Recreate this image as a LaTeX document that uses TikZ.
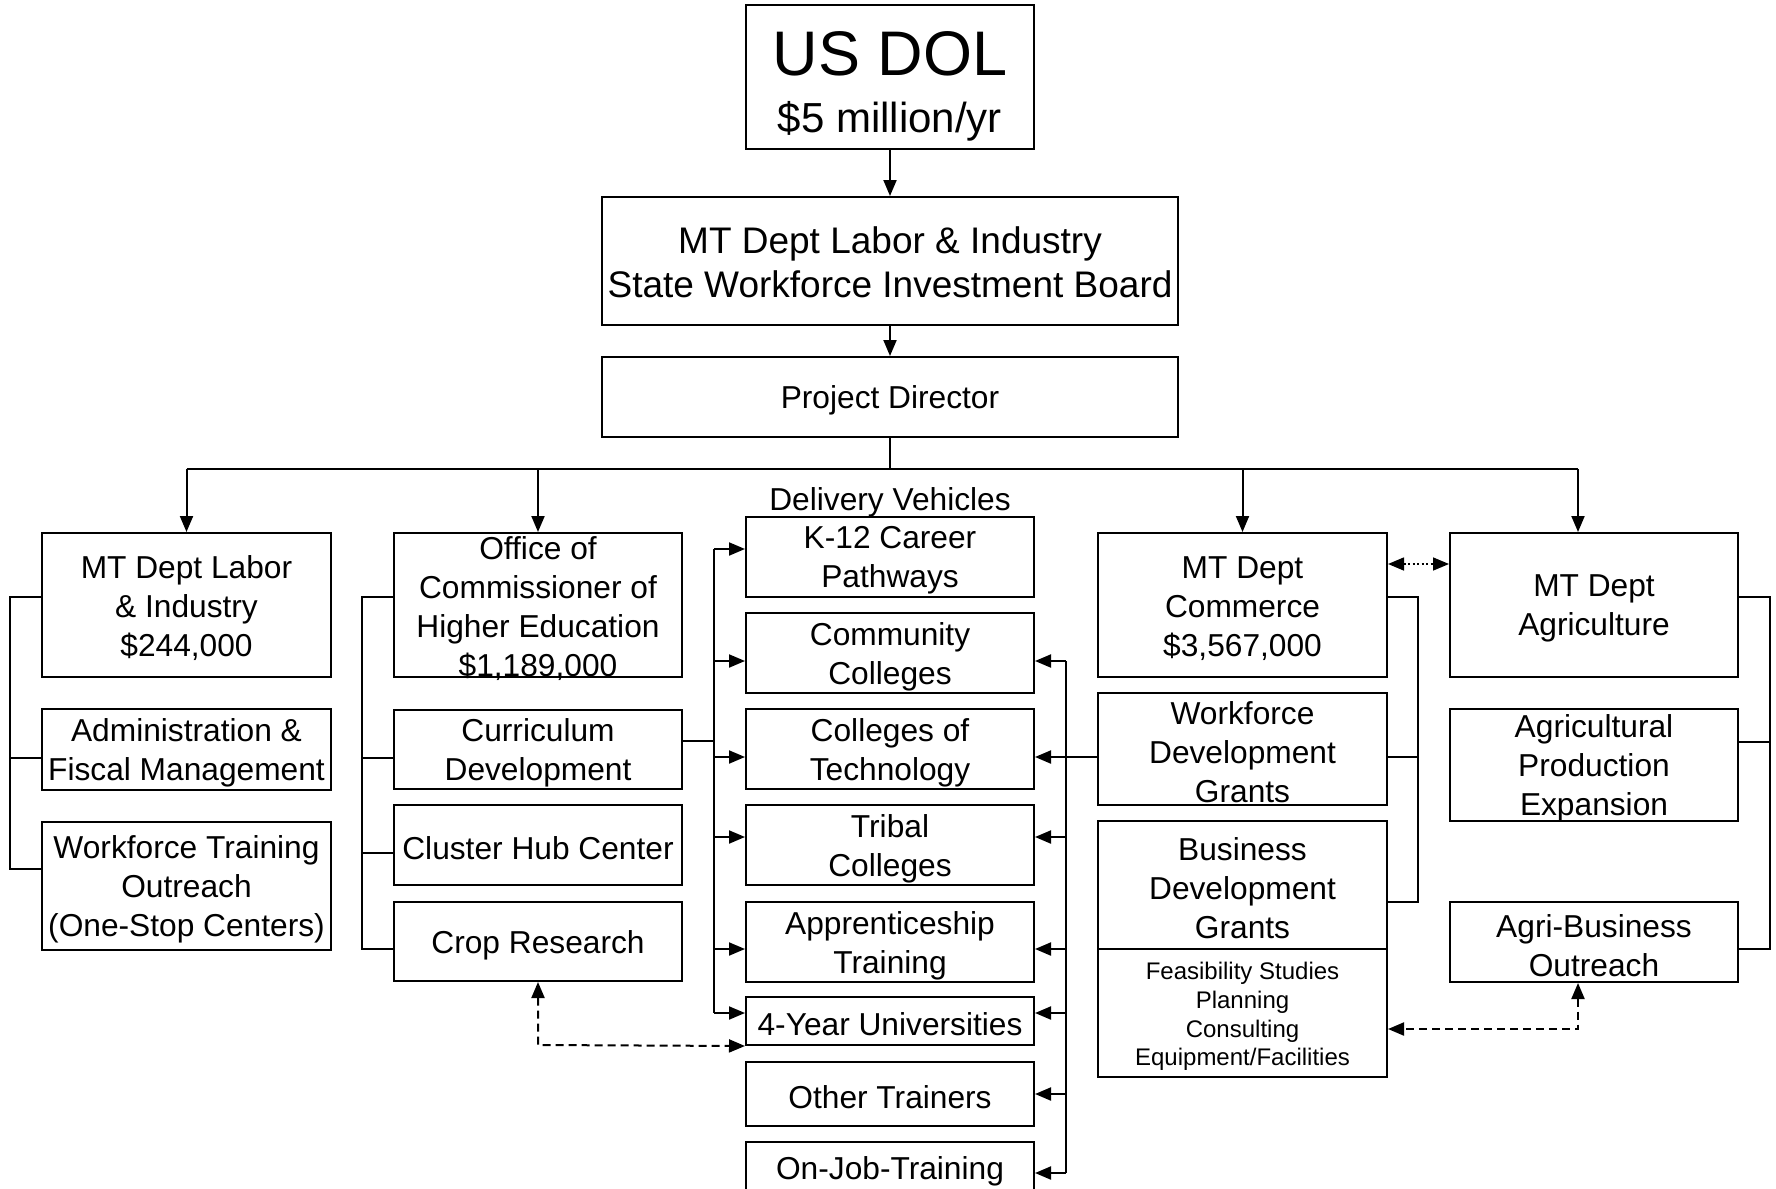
\documentclass[tikz,border=0pt]{standalone}
\usepackage{fontspec}
\setmainfont{Liberation Sans}
\usetikzlibrary{arrows.meta}
\newcommand\mainf{\fontsize{31.7}{39}\selectfont}
\newcommand\smallf{\fontsize{24}{28.8}\selectfont}
\newcommand\mybox[7][]{\node[boxframe,minimum width={#5-#3},minimum height={#6-#4}] (#2) at ({(#3+#5)/2},{(#4+#6)/2}) {};
  \node[boxtext,#1] (#2-t) at ([yshift=-3.5pt]#2.center) {#7};}
\tikzset{
  boxframe/.style={draw, line width=2pt, inner sep=0pt},
  boxtext/.style={inner sep=0pt, align=center, font=\mainf},
  conn/.style={line width=2pt},
  arr/.style={conn, -{Triangle[length=16pt,width=13pt]}},
  darr/.style={conn, dash pattern=on 8pt off 5pt, {Triangle[length=16pt,width=13pt]}-{Triangle[length=16pt,width=13pt]}},
  dotarr/.style={line width=1.6pt, dash pattern=on 2pt off 2.5pt, {Triangle[length=16pt,width=13pt]}-{Triangle[length=16pt,width=13pt]}},
}
\begin{document}
\begin{tikzpicture}[x=1pt,y=-1pt]
\path[use as bounding box] (0,0) rectangle (1776,1188);
\fill[white] (0,0) rectangle (1776,1188);
\clip (0,0) rectangle (1776,1188);

% top
\mybox{dol}{746}{5}{1034}{149}{}
\node[font=\fontsize{63}{70}\selectfont, anchor=base, inner sep=0pt] (dolt) at (890,76) {US DOL};
\node[font=\fontsize{42}{48}\selectfont, anchor=base, inner sep=0pt] (dolm) at (890,132) {\$5 million/yr};
\mybox[font=\fontsize{37}{44}\selectfont, yshift=2pt]{swib}{602}{197}{1178}{325}{MT Dept Labor \& Industry\\State Workforce Investment Board}
\mybox{pd}{602}{357}{1178}{437}{Project Director}

% left column
\mybox{lab}{42}{533}{331}{677}{MT Dept Labor\\\& Industry\\\$244,000}
\mybox{adm}{42}{709}{331}{790}{Administration \&\\Fiscal Management}
\mybox{wft}{42}{822}{331}{950}{Workforce Training\\Outreach\\(One-Stop Centers)}

% OCHE column
\mybox{oche}{394}{533}{682}{677}{Office of\\Commissioner of\\Higher Education\\\$1,189,000}
\mybox{cur}{394}{710}{682}{789}{Curriculum\\Development}
\mybox{clu}{394}{805}{682}{885}{Cluster Hub Center}
\mybox{crop}{394}{902}{682}{981}{Crop Research}

% delivery vehicles
\node[font=\mainf, anchor=base, inner sep=0pt] (dv) at (890,510) {Delivery Vehicles};
\mybox{k12}{746}{517}{1034}{597}{K-12 Career\\Pathways}
\mybox{cc}{746}{613}{1034}{693}{Community\\Colleges}
\mybox{cot}{746}{709}{1034}{789}{Colleges of\\Technology}
\mybox{tri}{746}{805}{1034}{885}{Tribal\\Colleges}
\mybox{app}{746}{902}{1034}{982}{Apprenticeship\\Training}
\mybox{uni}{746}{997}{1034}{1045}{4-Year Universities}
\mybox{oth}{746}{1062}{1034}{1126}{Other Trainers}
\mybox{ojt}{746}{1142}{1034}{1194}{On-Job-Training}

% commerce column
\mybox{com}{1098}{533}{1387}{677}{MT Dept\\Commerce\\\$3,567,000}
\mybox{wdg}{1098}{693}{1387}{805}{Workforce\\Development\\Grants}
\mybox{bdg}{1098}{821}{1387}{949}{Business\\Development\\Grants}
\mybox[font=\smallf]{fea}{1098}{949}{1387}{1077}{Feasibility Studies\\Planning\\Consulting\\Equipment/Facilities}

% agriculture column
\mybox{agr}{1450}{533}{1738}{677}{MT Dept\\Agriculture}
\mybox{agp}{1450}{709}{1738}{821}{Agricultural\\Production\\Expansion}
\mybox{agb}{1450}{902}{1738}{982}{Agri-Business\\Outreach}

% top connectors
\draw[arr] (dol) -- (swib);
\draw[arr] (swib) -- (pd);
\coordinate (bus) at (890,469);
\coordinate (busR) at (1578,469);
\draw[conn] (pd.south) -- (bus);
\draw[conn] (lab.north |- bus) -- (busR);
\draw[arr] (lab.north |- bus) -- (lab.north);
\draw[arr] (oche.north |- bus) -- (oche.north);
\draw[arr] (com.north |- bus) -- (com.north);
\draw[arr] (busR) -- (busR |- agr.north);

% left bracket
\coordinate (la) at (10,597);
\coordinate (lb) at (10,758);
\coordinate (lc) at (10,869);
\draw[conn] (lab.west |- la) -- (la) -- (lc) -- (wft.west |- lc);
\draw[conn] (lb) -- (adm.west |- lb);

% OCHE bracket
\coordinate (oa) at (362,597);
\coordinate (ob) at (362,758);
\coordinate (oc) at (362,853);
\coordinate (od) at (362,949);
\draw[conn] (oche.west |- oa) -- (oa) -- (od) -- (crop.west |- od);
\draw[conn] (ob) -- (cur.west |- ob);
\draw[conn] (oc) -- (clu.west |- oc);

% left trunk of delivery vehicles
\coordinate (lt) at (714,549);
\coordinate (lcur) at (714,741);
\coordinate (lbot) at (714,1013);
\draw[conn] (cur.east |- lcur) -- (lcur);
\draw[conn] (lt) -- (lbot);
\foreach \n/\y in {k12/549, cc/661, cot/757, tri/837, app/949, uni/1013}{
  \coordinate (l\n) at (714,\y);
  \draw[arr] (l\n) -- (\n.west |- l\n);
}

% right trunk of delivery vehicles
\coordinate (rtop) at (1066,661);
\coordinate (rbot) at (1066,1173);
\draw[conn] (rtop) -- (rbot);
\coordinate (rcot) at (1066,757);
\draw[arr] (wdg.west |- rcot) -- (cot.east |- rcot);
\foreach \n/\y in {cc/661, tri/837, app/949, uni/1013, oth/1094, ojt/1173}{
  \coordinate (r\n) at (1066,\y);
  \draw[arr] (r\n) -- (\n.east |- r\n);
}

% commerce bracket
\coordinate (ca) at (1418,597);
\coordinate (cb) at (1418,757);
\coordinate (cc2) at (1418,902);
\draw[conn] (com.east |- ca) -- (ca) -- (cc2) -- (bdg.east |- cc2);
\draw[conn] (cb) -- (wdg.east |- cb);

% agriculture bracket
\coordinate (aa) at (1770,597);
\coordinate (ab) at (1770,742);
\coordinate (ac) at (1770,949);
\draw[conn] (agr.east |- aa) -- (aa) -- (ac) -- (agb.east |- ac);
\draw[conn] (ab) -- (agp.east |- ab);

% dotted link commerce - agriculture
\coordinate (dl) at (1418,564);
\draw[dotarr] (com.east |- dl) -- (agr.west |- dl);

% dashed links
\coordinate (cd) at (538,1045);
\draw[darr] (crop.south) -- (cd) -- (uni.south west);
\coordinate (ad) at (1578,1029);
\draw[darr] (ad |- agb.south) -- (ad) -- (fea.east |- ad);
\end{tikzpicture}
\end{document}
